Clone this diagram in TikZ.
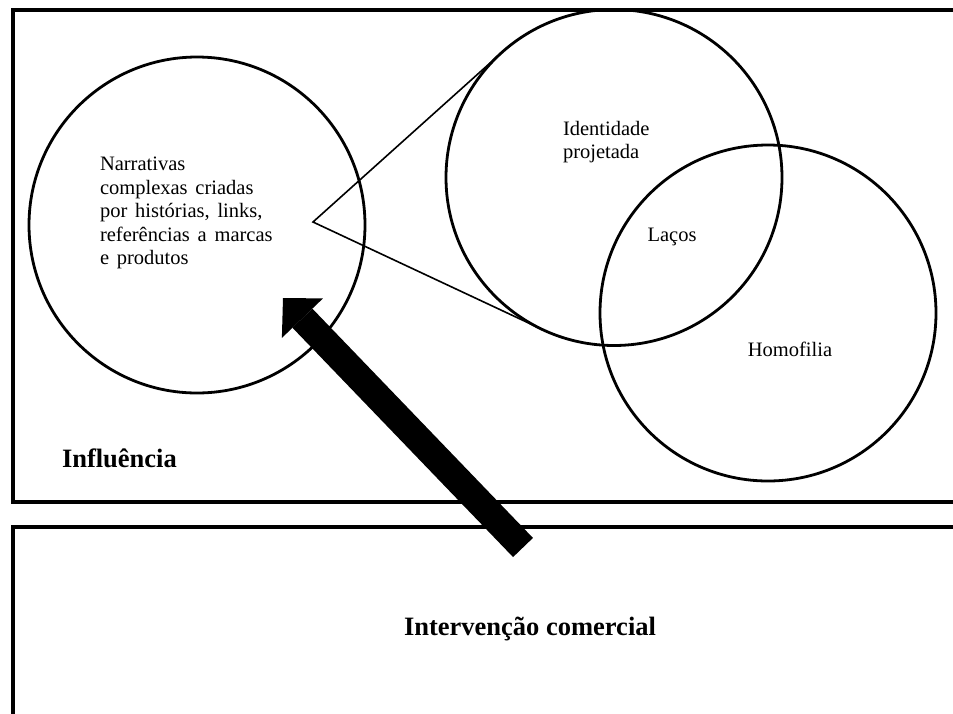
\documentclass[tikz,border=0pt]{standalone}
\usepackage{fontspec}
\setmainfont{Liberation Serif}
\usetikzlibrary{calc,arrows.meta}
\newcommand\widewordspace{\spaceskip=0.38em plus 0.1em\relax}
\begin{document}
\begin{tikzpicture}[x=1pt,y=-1pt,
  panel/.style={draw, line width=3.2pt, rectangle, anchor=north west, inner sep=0pt, outer sep=0pt},
  setcircle/.style={draw, line width=2.8pt, circle, minimum size=336pt, inner sep=0pt, outer sep=0pt},
  lbl/.style={font=\fontsize{20.5}{23.6}\selectfont\widewordspace, inner sep=0pt, outer sep=0pt},
  ttl/.style={font=\bfseries\fontsize{26.5}{30}\selectfont, inner sep=0pt, outer sep=0pt},
  zoomline/.style={line width=1.6pt},
  bigarrow/.style={line width=27.6pt, -{Triangle[length=28pt,width=57pt,line width=0pt]}}
]
\path[use as bounding box, clip] (0,0) rectangle (953,713);
\node[panel, minimum width=960pt, minimum height=492pt] (influence) at (13,10) {};
\node[panel, minimum width=960pt, minimum height=200pt] (commercial) at (13,527) {};

\node[setcircle] (narr) at (197,225) {};
\node[setcircle] (ident) at (614,177.5) {};
\node[setcircle] (homo) at (768,313) {};

\node[lbl, anchor=north west, align=left] (narrtext) at (100,157) {Narrativas\\complexas criadas\\por histórias, links,\\referências a marcas\\e produtos};
\node[lbl, anchor=north west, align=left] (identtext) at (563,121) {Identidade\\projetada};
\node[lbl, anchor=base] (lacos) at (672,241.5) {Laços};
\node[lbl, anchor=base] (homotext) at (790,356.5) {Homofilia};
\node[ttl, anchor=base west] (inftext) at (62,467) {Influência};
\node[ttl, anchor=base] (comtext) at (530,635) {Intervenção comercial};

\coordinate (apex) at (313,222);
\draw[zoomline] (tangent cs:node=ident,point={(apex)},solution=1) -- (apex) -- (tangent cs:node=ident,point={(apex)},solution=2);

\coordinate (arrowstart) at (523,547.5);
\coordinate (arrowtip) at (283,298);
\draw[bigarrow] (arrowstart) -- (arrowtip);
\end{tikzpicture}
\end{document}
